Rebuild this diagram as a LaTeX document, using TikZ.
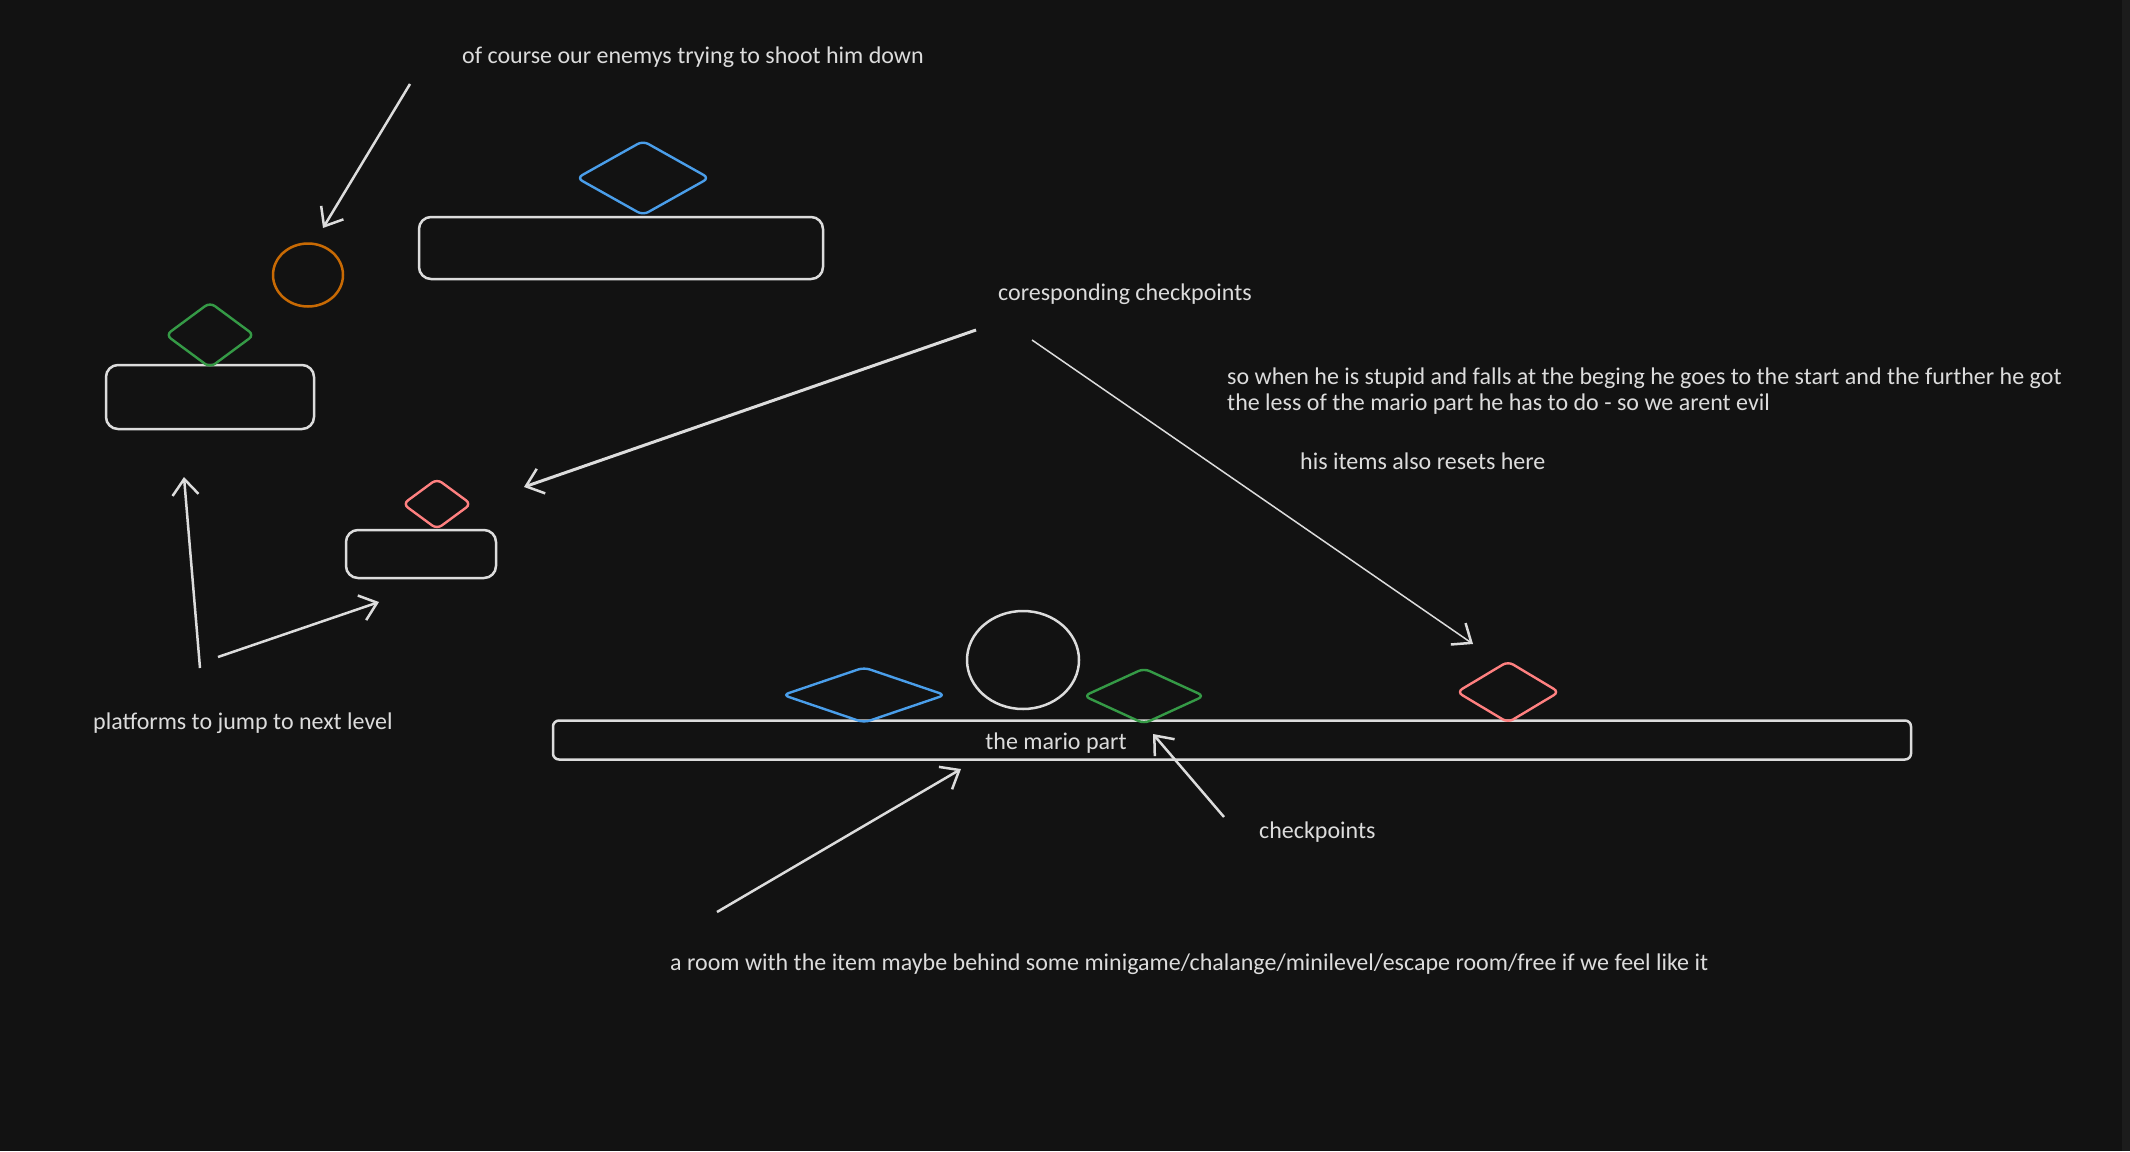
\documentclass[tikz,border=0pt]{standalone}
\usepackage{fontspec}
\setmainfont{Carlito}
\usetikzlibrary{shapes.geometric,arrows.meta}
\definecolor{bg}{HTML}{121212}
\definecolor{edge}{HTML}{1C1C1C}
\definecolor{ink}{HTML}{DCDCDC}
\definecolor{itemblue}{HTML}{4A9EEA}
\definecolor{itemgreen}{HTML}{359A46}
\definecolor{itemred}{HTML}{FF8080}
\definecolor{enemy}{HTML}{C86A04}
\begin{document}
\begin{tikzpicture}[x=1pt, y=-1pt,
  note/.style={text=ink, font=\fontsize{24}{26}\selectfont, inner sep=0pt, anchor=west, align=left},
  platform/.style 2 args={draw=ink, line width=2.5pt, rounded corners=12pt, minimum width=#1, minimum height=#2, inner sep=0pt},
  gem/.style 2 args={diamond, line width=2.4pt, rounded corners=6pt, minimum width=#1, minimum height=#2, inner sep=0pt},
  blob/.style 2 args={ellipse, line width=2.5pt, minimum width=#1, minimum height=#2, inner sep=0pt},
  pointer/.style={draw=ink, line width=2.5pt, -{Straight Barb[length=16pt, width=26pt, line width=2.5pt]}}]

\fill[bg] (0, 0) rectangle (2130, 1151);
\fill[edge] (2122, 0) rectangle (2130, 1151);

% upper levels
\node[platform={404pt}{62pt}] (topPlat) at (621, 248) {};
\node[platform={208pt}{64pt}] (leftPlat) at (210, 397) {};
\node[platform={150pt}{48pt}] (smallPlat) at (421, 554) {};
\node[gem={133pt}{75pt}, draw=itemblue] (topBlue) at (643, 178) {};
\node[gem={89pt}{66pt}, draw=itemgreen] (leftGreen) at (210, 335) {};
\node[gem={69pt}{51pt}, draw=itemred] (smallRed) at (437, 504) {};
\node[blob={70pt}{63pt}, draw=enemy] (enemy) at (308, 275) {};

\node[note] (enemyNote) at (462, 57) {of course our enemys trying to shoot him down};
\coordinate (enemyTail) at (410, 84);
\coordinate (enemyHead) at (323, 228);
\draw[pointer] (enemyTail) -- (enemyHead);

\node[note] (jumpNote) at (93, 723) {platforms to jump to next level};
\coordinate (jumpUpTail) at (200, 668);
\coordinate (jumpUpHead) at (184, 477);
\coordinate (jumpOnTail) at (218, 657);
\coordinate (jumpOnHead) at (379, 602);
\draw[pointer] (jumpUpTail) -- (jumpUpHead);
\draw[pointer] (jumpOnTail) -- (jumpOnHead);

% the mario part
\node[platform={1358pt}{39pt}, rounded corners=6pt] (marioPlat) at (1232, 740) {};
\node[text=ink, font=\fontsize{24}{26}\selectfont, inner sep=0pt] (marioNote) at (1056, 743) {the mario part};
\node[blob={112pt}{98pt}, draw=ink] (player) at (1023, 660) {};
\node[gem={163pt}{56pt}, draw=itemblue] (lowBlue) at (864, 695) {};
\node[gem={121pt}{56pt}, draw=itemgreen] (lowGreen) at (1144, 696) {};
\node[gem={103pt}{62pt}, draw=itemred] (lowRed) at (1508, 692) {};

\node[note] (checkNote) at (1259, 832) {checkpoints};
\coordinate (checkTail) at (1224, 817);
\coordinate (checkHead) at (1153, 734);
\draw[pointer] (checkTail) -- (checkHead);

\node[note] (roomNote) at (670, 964) {a room with the item maybe behind some minigame/chalange/minilevel/escape room/free if we feel like it};
\coordinate (roomTail) at (717, 912);
\coordinate (roomHead) at (961, 769);
\draw[pointer] (roomTail) -- (roomHead);

% checkpoints and resets
\node[note] (corrNote) at (998, 294) {coresponding checkpoints};
\coordinate (corrLeftTail) at (976, 330);
\coordinate (corrLeftHead) at (524, 487);
\coordinate (corrRightTail) at (1032, 340);
\coordinate (corrRightHead) at (1473, 644);
\draw[pointer, line width=3pt] (corrLeftTail) -- (corrLeftHead);
\draw[pointer, line width=1.5pt] (corrRightTail) -- (corrRightHead);

\node[note] (fallNote) at (1227, 391) {so when he is stupid and falls at the beging he goes to the start and the further he got\\the less of the mario part he has to do - so we arent evil};
\node[note] (resetNote) at (1300, 461) {his items also resets here};

\end{tikzpicture}
\end{document}
